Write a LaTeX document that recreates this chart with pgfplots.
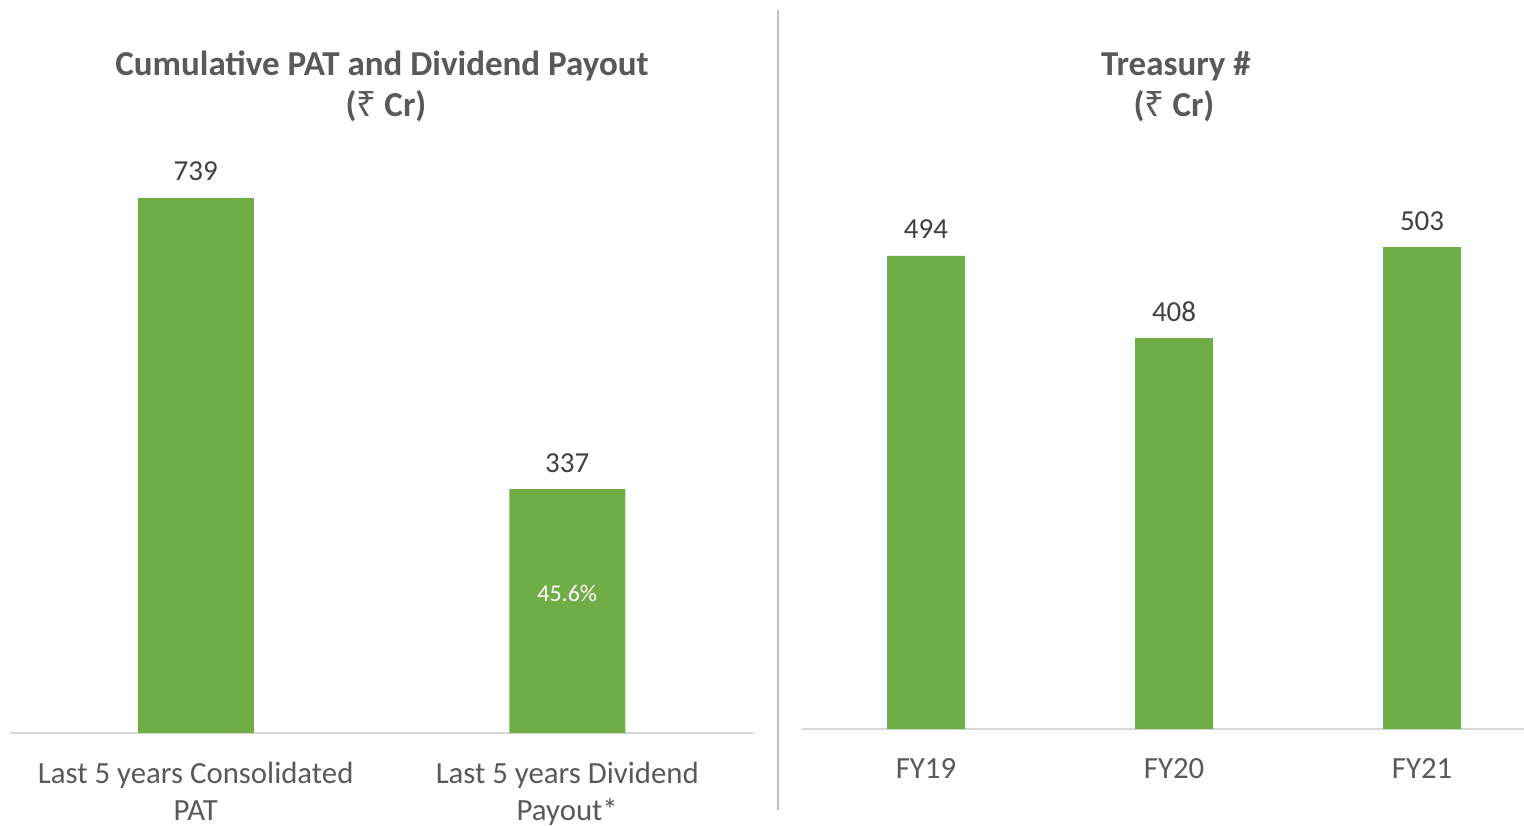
\documentclass[border=0pt]{standalone}
\usepackage{pgfplots}
\pgfplotsset{compat=1.18}
\usepackage{fontspec}
\setmainfont{Carlito}
\newfontfamily\rup{Noto Sans}
\definecolor{barg}{HTML}{70AD47}
\definecolor{txt}{HTML}{595959}
\definecolor{val}{HTML}{404040}
\definecolor{axl}{HTML}{D9D9D9}
\definecolor{sep}{HTML}{BFBFBF}
\begin{document}
\begin{tikzpicture}
\path[use as bounding box] (0,0) rectangle (762pt,412.5pt);
\pgfplotsset{
  mybars/.style={
    scale only axis, anchor=south west,
    ybar, ymin=0,
    axis y line=none,
    axis x line*=bottom,
    x axis line style={color=axl, line width=0.75pt, -},
    xtick=data, major tick length=0pt,
    /pgf/number format/assume math mode=true,
    xticklabel style={align=center, font=\fontsize{15.4}{18.3}\selectfont, text=txt, anchor=north, yshift=-11pt},
    nodes near coords,
    every node near coord/.append style={font=\fontsize{14.5}{17}\selectfont, text=val, anchor=base, yshift=8.5pt},
    clip=false,
  }
}
% Left panel
\begin{axis}[mybars,
  at={(5pt,46pt)},
  width=371.5pt, height=289.6pt,
  xmin=-0.5, xmax=1.5, ymax=800,
  bar width=58pt,
  xticklabels={{Last 5 years Consolidated\\PAT},{Last 5 years Dividend\\Payout*}},
]
\addplot[fill=barg, draw=none] coordinates {(0,739) (1,337)};
\node[font=\fontsize{12}{14}\selectfont, text=white, anchor=base] at (axis cs:1,182) {45.6\%};
\end{axis}
% Right panel
\begin{axis}[mybars,
  at={(401pt,48pt)},
  width=361pt, height=287.4pt,
  xmin=-0.5, xmax=2.411, ymax=600,
  bar width=39pt,
  xticklabels={FY19,FY20,FY21},
]
\addplot[fill=barg, draw=none] coordinates {(0,494) (1,408) (2,503)};
\end{axis}
% separator
\draw[color=sep, line width=1pt] (389pt,7.5pt) -- (389pt,407.5pt);
% titles
\node[anchor=base, font=\bfseries\fontsize{17.5}{21}\selectfont, text=txt] at (191pt,374.5pt) {Cumulative PAT and Dividend Payout};
\node[anchor=base, font=\bfseries\fontsize{17.5}{21}\selectfont, text=txt] at (193pt,354pt) {({\rup ₹} Cr)};
\node[anchor=base, font=\bfseries\fontsize{17.5}{21}\selectfont, text=txt] at (588pt,374.5pt) {Treasury \#};
\node[anchor=base, font=\bfseries\fontsize{17.5}{21}\selectfont, text=txt] at (587pt,354pt) {({\rup ₹} Cr)};
\end{tikzpicture}
\end{document}
